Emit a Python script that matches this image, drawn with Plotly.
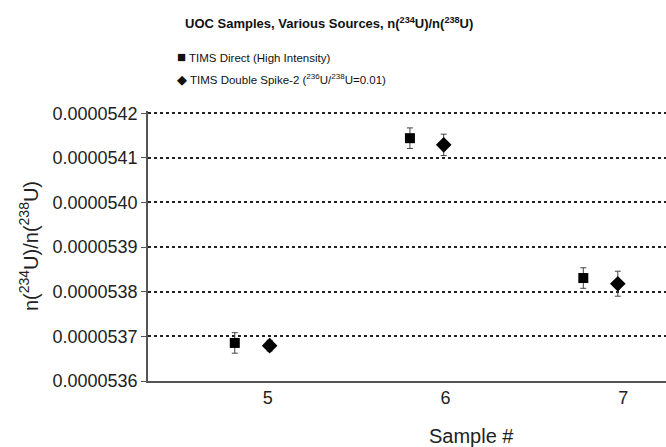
import plotly.graph_objects as go

samples = [5, 6, 7]
direct_x = [4.815, 5.80, 6.775]
direct_vals = [5.36853e-5, 5.41441e-5, 5.38307e-5]
direct_err = [2.3e-8, 2.3e-8, 2.3e-8]
spike_x = [5.011, 5.99, 6.969]
spike_vals = [5.36792e-5, 5.41291e-5, 5.38180e-5]
spike_err = [1.2e-8, 2.4e-8, 2.8e-8]
ytick_vals = [5.36e-5, 5.37e-5, 5.38e-5, 5.39e-5, 5.40e-5, 5.41e-5, 5.42e-5]
ytick_text = ["0.0000536", "0.0000537", "0.0000538", "0.0000539", "0.0000540", "0.0000541", "0.0000542"]

FONT = "Arial, Liberation Sans, sans-serif"
err_style = dict(type="data", visible=True, color="#444", thickness=1, width=3)

fig = go.Figure()
fig.add_trace(go.Scatter(
    x=direct_x, y=direct_vals, mode="markers",
    marker=dict(symbol="square", size=10, color="black"),
    error_y=dict(array=direct_err, **err_style),
    name="TIMS Direct (High Intensity)", showlegend=False))
fig.add_trace(go.Scatter(
    x=spike_x, y=spike_vals, mode="markers",
    marker=dict(symbol="diamond", size=12, color="black"),
    error_y=dict(array=spike_err, **err_style),
    name="TIMS Double Spike-2", showlegend=False))

y_top = 5.42e-5 + 0.05e-7
top_px = 113 - 0.05 * 44.68
plot_h = 447 - top_px - 65.5

fig.update_layout(
    width=666, height=447,
    margin=dict(l=147.5, r=0, t=top_px, b=65.5),
    paper_bgcolor="white", plot_bgcolor="white",
    font=dict(family=FONT, color="#222"),
    xaxis=dict(range=[4.327, 7.240], tickvals=samples, ticktext=[str(s) for s in samples],
               showgrid=False, zeroline=False, showline=True, linecolor="#555", linewidth=1.5,
               ticks="", tickfont=dict(size=18, color="#222")),
    yaxis=dict(range=[5.36e-5, y_top], tickvals=ytick_vals, ticktext=ytick_text,
               showgrid=True, gridcolor="#222", gridwidth=1.5, griddash="dot",
               zeroline=False, showline=True, linecolor="#555", linewidth=1.5,
               ticks="outside", ticklen=5, tickcolor="#555", tickwidth=1.2,
               tickfont=dict(size=18, color="#222"),
               title=dict(text="n(<sup>234</sup>U)/n(<sup>238</sup>U)", font=dict(size=20, color="#222"), standoff=9)),
    annotations=[
        dict(text="<b>UOC Samples, Various Sources, n(<sup>234</sup>U)/n(<sup>238</sup>U)</b>",
             xref="paper", yref="paper", x=(329 - 147.5) / 518.5, y=1 + (top_px - 23) / plot_h,
             xanchor="center", yanchor="middle", showarrow=False, font=dict(size=13, color="#111")),
        dict(text="<span style='font-size:15px'>■</span> TIMS Direct (High Intensity)",
             xref="paper", yref="paper", x=(175 - 147.5) / 518.5, y=1 + (top_px - 56) / plot_h,
             xanchor="left", yanchor="middle", showarrow=False, font=dict(size=11.5, color="#111")),
        dict(text="<span style='font-size:13px'>◆</span> TIMS Double Spike-2 (<sup>236</sup>U/<sup>238</sup>U=0.01)",
             xref="paper", yref="paper", x=(175 - 147.5) / 518.5, y=1 + (top_px - 79) / plot_h,
             xanchor="left", yanchor="middle", showarrow=False, font=dict(size=11.5, color="#111")),
        dict(text="Sample #", xref="paper", yref="paper", x=(471 - 147.5) / 518.5,
             y=-(437 - 381.5) / plot_h, xanchor="center", yanchor="middle", showarrow=False,
             font=dict(size=20, color="#222")),
    ],
)

fig.write_html("out.html", config={"displayModeBar": False},
               post_script="document.body.style.margin='0';document.body.style.overflow='hidden';")
